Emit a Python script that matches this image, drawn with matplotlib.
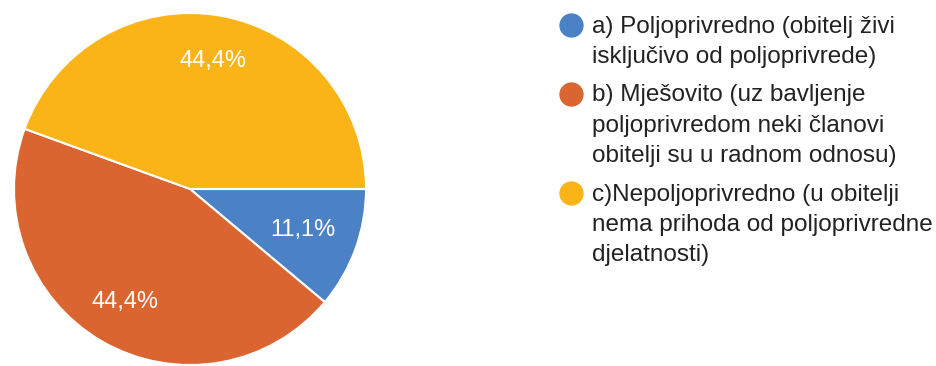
import matplotlib
matplotlib.use("Agg")
import matplotlib.pyplot as plt
from matplotlib.lines import Line2D

plt.rcParams['font.family'] = ['Liberation Sans', 'DejaVu Sans']

# Answers to the household income question (share of respondents, %)
categories = [
    "a) Poljoprivredno (obitelj živi\nisključivo od poljoprivrede)",
    "b) Mješovito (uz bavljenje\npoljoprivredom neki članovi\nobitelji su u radnom odnosu)",
    "c)Nepoljoprivredno (u obitelji\nnema prihoda od poljoprivredne\ndjelatnosti)",
]
shares = [11.1, 44.4, 44.4]
colors = ["#4b82c6", "#da6530", "#fbb417"]


def pct_label(p):
    return f"{p:.1f}%".replace(".", ",")


fig = plt.figure(figsize=(9.36, 3.66), dpi=100)
ax = fig.add_axes([14 / 936, 1 / 366, 352 / 936, 352 / 366])
wedges, texts, autotexts = ax.pie(
    shares, colors=colors, startangle=0, counterclock=False,
    autopct=pct_label, pctdistance=0.74,
    wedgeprops=dict(edgecolor="white", linewidth=1.5),
    textprops=dict(color="white", fontsize=17))
# the narrow slice gets its label pulled a little closer to the centre
x, y = autotexts[0].get_position()
autotexts[0].set_position((x * 0.92, y * 0.92))
ax.set_xlim(-1, 1)
ax.set_ylim(-1, 1)
ax.set_aspect("equal")

handles = [Line2D([], [], marker="o", linestyle="", markersize=16.5,
                  markerfacecolor=c, markeredgecolor=c) for c in colors]
leg = fig.legend(handles, categories, loc="upper left",
                 bbox_to_anchor=(559 / 936, 1 - 15.5 / 366),
                 frameon=False, fontsize=17.5, borderpad=0, borderaxespad=0,
                 handlelength=0.97, handleheight=0.97, handletextpad=0.37,
                 labelspacing=0.69)
for t in leg.get_texts():
    t.set_color("#222222")
    t.set_linespacing(1.48)
# keep each marker level with the first line of its label
for col in leg._legend_handle_box.get_children():
    for row in col.get_children():
        row.align = "top"

fig.savefig("out.png", dpi=100, facecolor="white")
